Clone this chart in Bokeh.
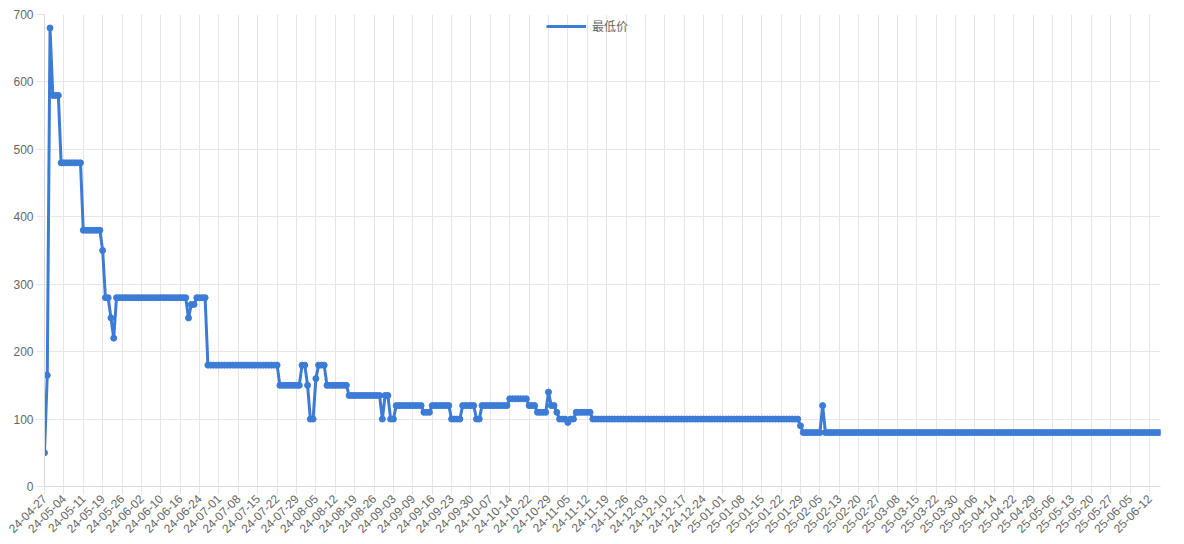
import math
from bokeh.plotting import figure
from bokeh.models import Range1d, FixedTicker, Legend, LegendItem, ColumnDataSource
from bokeh.embed import file_html
from bokeh.resources import INLINE

# x-axis labels shown (every 7th category)
tick_labels = [
    "24-04-27", "24-05-04", "24-05-11", "24-05-19", "24-05-26", "24-06-02", "24-06-10",
    "24-06-16", "24-06-24", "24-07-01", "24-07-08", "24-07-15", "24-07-22", "24-07-29",
    "24-08-05", "24-08-12", "24-08-19", "24-08-26", "24-09-03", "24-09-09", "24-09-16",
    "24-09-23", "24-09-30", "24-10-07", "24-10-14", "24-10-22", "24-10-29", "24-11-05",
    "24-11-12", "24-11-19", "24-11-26", "24-12-03", "24-12-10", "24-12-17", "24-12-24",
    "25-01-01", "25-01-08", "25-01-15", "25-01-22", "25-01-29", "25-02-05", "25-02-13",
    "25-02-20", "25-02-27", "25-03-08", "25-03-15", "25-03-22", "25-03-30", "25-04-06",
    "25-04-14", "25-04-22", "25-04-29", "25-05-06", "25-05-13", "25-05-20", "25-05-27",
    "25-06-05", "25-06-12",
]
label_step = 7

# series "最低价": consecutive values (value, number of points)
run_values = [50, 165, 680, 580, 480, 380, 350, 280, 250, 220, 280, 250, 270, 280,
              180, 150, 180, 150, 100, 160, 180, 150, 135, 100, 135, 100, 120, 110,
              120, 100, 120, 100, 120, 130, 120, 110, 140, 120, 110, 100, 95, 100,
              110, 100, 90, 80, 120, 80]
run_lengths = [1, 1, 1, 3, 8, 7, 1, 2, 1, 1, 26, 1, 2, 4,
               26, 8, 2, 1, 2, 1, 3, 8, 12, 1, 2, 2, 10, 3,
               7, 4, 5, 2, 10, 7, 3, 4, 1, 2, 1, 3, 1, 2,
               6, 75, 1, 7, 1, 122]
series_name = "最低价"

values = []
for v, n in zip(run_values, run_lengths):
    values.extend([v] * n)
xs = list(range(len(values)))

COLOR = "#3c7bd6"
FONT = "Liberation Sans"

p = figure(frame_width=1116, frame_height=472, output_backend="svg", toolbar_location=None,
           x_range=Range1d(0, len(values) - 1), y_range=Range1d(0, 700),
           min_border_left=44, min_border_right=16, min_border_top=14, min_border_bottom=4)
p.outline_line_color = None
p.background_fill_color = "white"

src = ColumnDataSource(dict(x=xs, y=values))
line_r = p.line("x", "y", source=src, line_width=3, line_color=COLOR)
p.scatter("x", "y", source=src, size=6, fill_color=COLOR, line_color=COLOR)

# legend at the top centre
legend = Legend(items=[LegendItem(label=series_name, renderers=[line_r])],
                location=(502, 452), orientation="horizontal",
                glyph_width=40, glyph_height=16, padding=1, margin=0, spacing=0,
                label_text_font="Noto Sans CJK SC", label_text_font_size="12px",
                label_text_color="#666666", label_standoff=6, label_height=16,
                border_line_color=None, background_fill_alpha=0)
p.add_layout(legend, "center")

# axes
p.xaxis.ticker = FixedTicker(ticks=[i * label_step for i in range(len(tick_labels))])
p.xaxis.major_label_overrides = {i * label_step: t for i, t in enumerate(tick_labels)}
p.xaxis.major_label_orientation = math.pi / 4
p.yaxis.ticker = FixedTicker(ticks=list(range(0, 701, 100)))

for ax in (p.xaxis, p.yaxis):
    ax.axis_line_color = "#d9d9d9"
    ax.major_tick_line_color = "#e5e5e5"
    ax.major_tick_out = 8
    ax.major_tick_in = 0
    ax.minor_tick_line_color = None
    ax.major_label_text_font = FONT
    ax.major_label_text_font_size = "12px"
    ax.major_label_text_color = "#666666"
p.yaxis.major_label_standoff = 3
p.xaxis.major_label_standoff = 2

p.grid.grid_line_color = "#e6e6e6"
p.grid.grid_line_width = 1

open("out.html", "w").write(file_html(p, INLINE))
